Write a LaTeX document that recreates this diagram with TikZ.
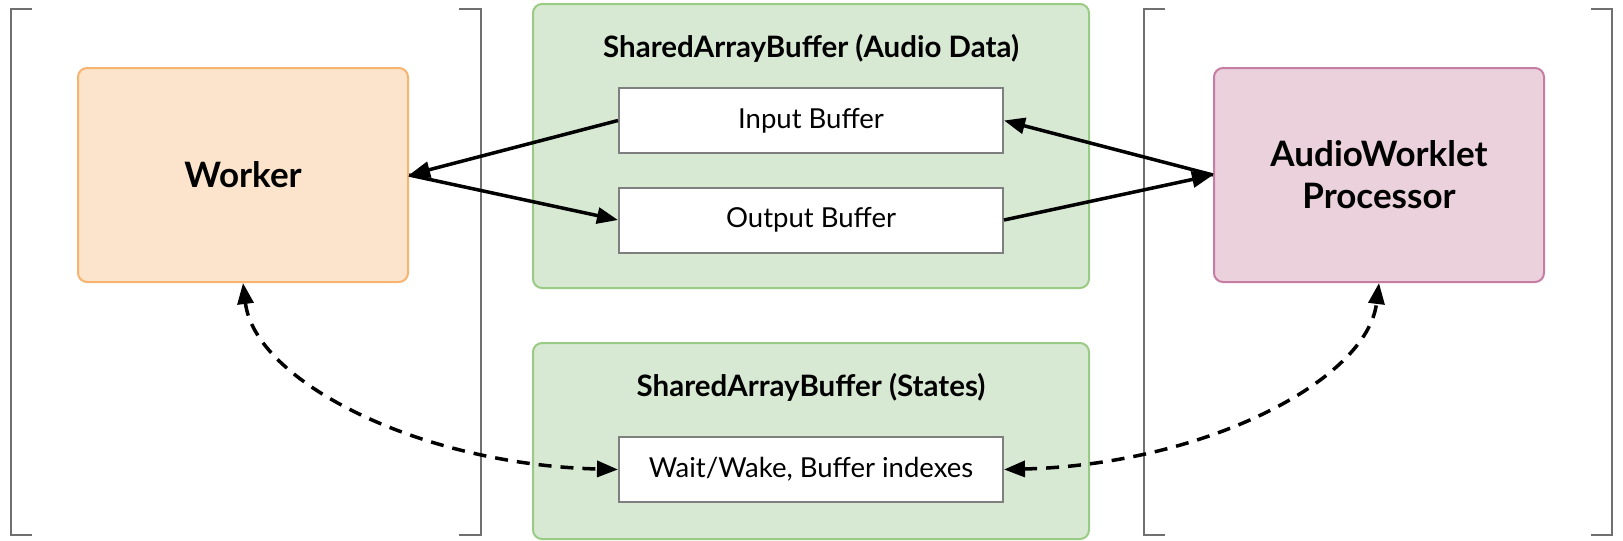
\documentclass[tikz,border=0pt]{standalone}
\usepackage{fontspec}
\setmainfont{Lato}
\usetikzlibrary{arrows.meta}
\definecolor{wfill}{HTML}{FBE4CB}
\definecolor{wline}{HTML}{F7B46E}
\definecolor{gfill}{HTML}{D8E9D3}
\definecolor{gline}{HTML}{9ACB85}
\definecolor{pfill}{HTML}{EAD1DC}
\definecolor{pline}{HTML}{C77DA3}
\definecolor{bline}{HTML}{7F7F7F}
\definecolor{brk}{HTML}{707070}
\tikzset{
  actor/.style={draw, line width=2pt, rounded corners=9pt, minimum width=330pt, minimum height=214pt, align=center, inner sep=0pt, font=\bfseries\fontsize{35}{42}\selectfont},
  sabox/.style={draw=gline, fill=gfill, line width=2pt, rounded corners=9pt, minimum width=556pt, inner sep=0pt},
  bufbox/.style={draw=bline, fill=white, line width=2pt, minimum width=384pt, minimum height=65pt, inner sep=0pt, font=\fontsize{27.5}{32}\selectfont},
  satitle/.style={anchor=base, inner sep=0pt, font=\bfseries\fontsize{29.5}{34}\selectfont},
  bracket/.style={draw=brk, line width=2pt},
  arr/.style={line width=3.5pt, -{Triangle[length=21pt,width=16pt]}},
  darr/.style={line width=3.5pt, dash pattern=on 13pt off 9pt, {Triangle[length=21pt,width=16pt]}-{Triangle[length=21pt,width=16pt]}}
}
\begin{document}
\begin{tikzpicture}[x=1pt,y=-1pt]
\useasboundingbox (0,0) rectangle (1623,541);
% brackets
\draw[bracket] (32,9) -- (11,9) -- (11,535) -- (32,535);
\draw[bracket] (459,9) -- (481,9) -- (481,535) -- (459,535);
\draw[bracket] (1165,9) -- (1144,9) -- (1144,535) -- (1165,535);
\draw[bracket] (1591,9) -- (1612,9) -- (1612,535) -- (1591,535);
% shared array buffers
\node[sabox, minimum height=284pt] (sab1) at (811,146) {};
\node[sabox, minimum height=196pt] (sab2) at (811,441) {};
\node[satitle] (t1) at (811,57) {SharedArrayBuffer (Audio Data)};
\node[satitle] (t2) at (811,396) {SharedArrayBuffer (States)};
\node[bufbox] (in) at (811,120.5) {Input Buffer};
\node[bufbox] (out) at (811,220) {Output Buffer};
\node[bufbox] (wait) at (811,469.5) {Wait/Wake, Buffer indexes};
% actors
\node[actor, draw=wline, fill=wfill] (w) at (243,175) {Worker};
\node[actor, draw=pline, fill=pfill] (aw) at (1379,175) {AudioWorklet\\Processor};
% connectors
\draw[arr] (in.west) -- (w.east);
\draw[arr] (w.east) -- (out.west);
\draw[arr] (aw.west) -- (in.east);
\draw[arr] (out.east) -- (aw.west);
\draw[darr] (w.south) .. controls +(12,98) and +(-199,-5) .. (wait.west);
\draw[darr] (wait.east) .. controls +(199,-5) and +(-12,98) .. (aw.south);
\end{tikzpicture}
\end{document}
